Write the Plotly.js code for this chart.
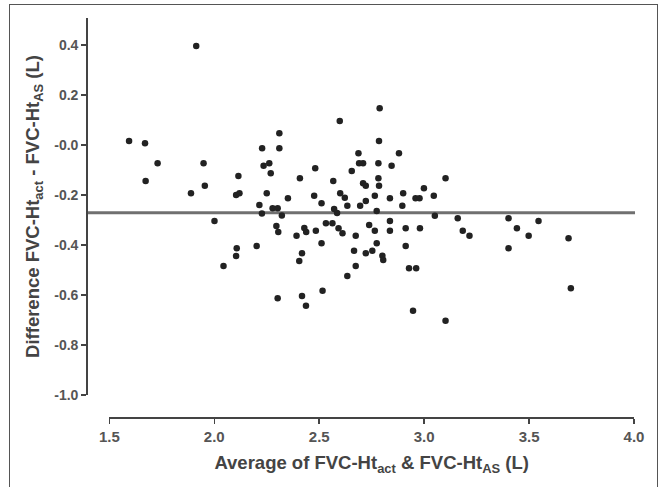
<!DOCTYPE html>
<html>
<head>
<meta charset="utf-8">
<script src="https://cdn.plot.ly/plotly-3.0.1.min.js"></script>
<style>
  html, body { margin: 0; padding: 0; background: #ffffff; }
  #wrap { position: relative; width: 662px; height: 487px; }
  #chart { position: absolute; left: 0; top: 0; width: 662px; height: 487px; }
  #frame { position: absolute; left: 9px; top: 4px; width: 647px; height: 490px;
           border: 1.5px solid #555; border-bottom: none; pointer-events: none; }
</style>
</head>
<body>
<div id="wrap">
  <div id="chart"></div>
  <div id="frame"></div>
</div>
<script>
// Average of FVC-Ht_act & FVC-Ht_AS (L)
const averageFVC = [
  1.594, 1.670, 1.730, 1.673, 1.914, 1.949, 1.889, 1.955, 2.115, 2.104,
  2.120, 2.228, 2.310, 2.310, 2.235, 2.262, 2.269, 2.250, 2.351, 2.408,
  2.481, 2.476, 2.511, 2.567, 2.598, 2.600, 2.622, 2.634, 2.655, 2.687,
  2.690, 2.709, 2.788, 2.785, 2.880, 2.782, 2.845, 2.782, 3.102, 2.709,
  2.722, 2.785, 2.999, 2.900, 3.046, 2.765, 2.837, 2.959, 2.978, 2.695,
  2.722, 2.896, 2.774, 3.051, 3.160, 3.402, 3.545, 2.837, 2.738,
  2.765, 2.837, 2.912, 2.980, 3.184, 3.216, 3.442, 3.498, 2.674, 3.688,
  2.774, 2.912, 3.402, 2.666, 2.722, 2.753, 2.801, 2.805, 2.674, 2.928,
  2.962, 2.634, 3.699, 2.947, 3.102, 2.001, 2.392, 2.484, 2.532, 2.563,
  2.511, 2.202, 2.107, 2.104, 2.418, 2.405, 2.044, 2.516, 2.302, 2.418,
  2.437, 2.429, 2.438, 2.592, 2.611, 2.215, 2.227, 2.278, 2.302, 2.322,
  2.296, 2.305, 2.571, 2.585
];
// Difference FVC-Ht_act - FVC-Ht_AS (L)
const differenceFVC = [
  0.016, 0.007, -0.073, -0.144, 0.396, -0.073, -0.193, -0.163, -0.124, -0.200,
  -0.193, -0.013, 0.047, -0.013, -0.083, -0.073, -0.113, -0.193, -0.213, -0.133,
  -0.093, -0.203, -0.233, -0.144, 0.096, -0.193, -0.211, -0.243, -0.104, -0.033,
  -0.073, -0.073, 0.147, 0.016, -0.033, -0.073, -0.083, -0.133, -0.133, -0.153,
  -0.163, -0.163, -0.173, -0.193, -0.203, -0.203, -0.213, -0.213, -0.213, -0.243,
  -0.224, -0.243, -0.264, -0.283, -0.293, -0.293, -0.304, -0.304, -0.320,
  -0.343, -0.343, -0.333, -0.333, -0.343, -0.363, -0.333, -0.363, -0.363, -0.373,
  -0.393, -0.404, -0.413, -0.423, -0.433, -0.423, -0.443, -0.460, -0.484, -0.493,
  -0.493, -0.524, -0.573, -0.663, -0.703, -0.304, -0.363, -0.343, -0.313, -0.313,
  -0.393, -0.404, -0.413, -0.444, -0.433, -0.464, -0.484, -0.583, -0.613, -0.604,
  -0.643, -0.332, -0.348, -0.333, -0.353, -0.240, -0.274, -0.253, -0.253, -0.282,
  -0.324, -0.348, -0.256, -0.272
];
const meanDifference = -0.271;

const xTickVals = [1.5, 2.0, 2.5, 3.0, 3.5, 4.0];
const xTickText = ["1.5", "2.0", "2.5", "3.0", "3.5", "4.0"];
const yTickVals = [-1.0, -0.8, -0.6, -0.4, -0.2, 0.0, 0.2, 0.4];
const yTickText = ["-1.0", "-0.8", "-0.6", "-0.4", "-0.2", "-0.0", "0.2", "0.4"];

const FONT = '"Liberation Sans", Arial, sans-serif';
const INK = '#444';

const trace = {
  type: 'scatter',
  mode: 'markers',
  x: averageFVC,
  y: differenceFVC,
  marker: { color: '#222', size: 6.5, line: { width: 0 } },
  hoverinfo: 'x+y'
};

const layout = {
  width: 662,
  height: 487,
  margin: { l: 60, r: 20, t: 18, b: 60 },
  paper_bgcolor: '#ffffff',
  plot_bgcolor: 'rgba(0,0,0,0)',
  showlegend: false,
  font: { family: FONT, color: INK },
  xaxis: {
    domain: [0.08505, 0.98969],
    range: [1.5, 4.0],
    anchor: 'free',
    position: 0.02274,
    showline: true, linecolor: INK, linewidth: 2,
    ticks: 'outside', ticklen: 5, tickwidth: 1.5, tickcolor: INK,
    tickvals: xTickVals, ticktext: xTickText,
    tickfont: { family: FONT, size: 15, color: '#555', weight: 'bold' },
    showgrid: false, zeroline: false,
    automargin: true,
    title: {
      text: 'Average of FVC-Ht<sub>act</sub> & FVC-Ht<sub>AS</sub> (L)',
      standoff: 11,
      font: { family: FONT, size: 18.5, color: INK, weight: 'bold' }
    }
  },
  yaxis: {
    domain: [0.07824, 1],
    range: [-1.0, 0.508],
    anchor: 'free',
    position: 0.0469,
    showline: true, linecolor: INK, linewidth: 2,
    ticks: 'outside', ticklen: 5, tickwidth: 1.5, tickcolor: INK,
    tickvals: yTickVals, ticktext: yTickText,
    tickfont: { family: FONT, size: 14, color: '#555', weight: 'bold' },
    showgrid: false, zeroline: false,
    automargin: false,
    title: {
      text: 'Difference FVC-Ht<sub>act</sub> - FVC-Ht<sub>AS</sub> (L)',
      font: { family: FONT, size: 18.5, color: INK, weight: 'bold' }
    }
  },
  shapes: [{
    type: 'line', layer: 'below',
    xref: 'paper', x0: 0.0469, x1: 0.9914,
    yref: 'y', y0: meanDifference, y1: meanDifference,
    line: { color: '#707070', width: 3 }
  }]
};

Plotly.newPlot('chart', [trace], layout, { displayModeBar: false, staticPlot: true });
</script>
</body>
</html>
